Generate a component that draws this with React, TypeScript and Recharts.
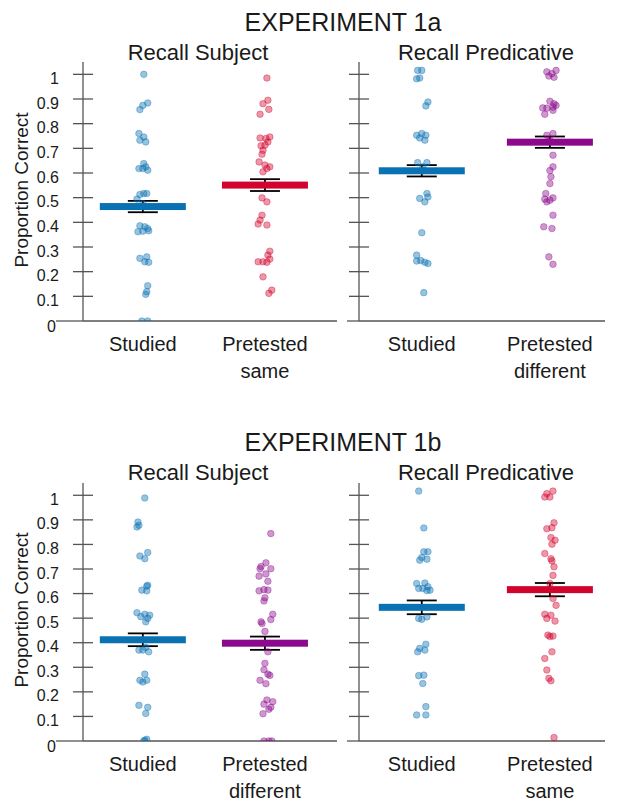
import { ScatterChart, Scatter, XAxis, YAxis, ErrorBar } from "recharts";

// each point: [proportion correct, horizontal jitter in px-ish units]
const E1A_SUBJ_STUDIED = [
  [1.0, 1], [0.884, 5], [0.874, 0], [0.857, -3], [0.76, -4], [0.746, 1], [0.733, -3], [0.726, 3],
  [0.638, 1], [0.625, 3], [0.618, -4], [0.618, 0], [0.611, 5], [0.517, 1], [0.513, -3], [0.517, 4],
  [0.494, -6], [0.476, 0], [0.386, -3], [0.382, 2], [0.375, 5], [0.362, -5], [0.364, 0], [0.366, 6],
  [0.254, -3], [0.26, 4], [0.24, 2], [0.238, 6], [0.143, 5], [0.119, 4], [0.108, 3], [0, -1], [0, 5],
];
const E1A_SUBJ_PRE_SAME = [
  [0.985, 2], [0.895, 3], [0.881, -2], [0.858, 4], [0.838, -5], [0.742, -5], [0.746, 5], [0.74, 1],
  [0.726, 3], [0.713, 0], [0.71, -4], [0.692, -2], [0.676, -3], [0.645, -6], [0.632, 0], [0.625, 5],
  [0.618, 2], [0.605, -2], [0.499, -3], [0.483, 2], [0.429, -3], [0.409, -5], [0.393, -7], [0.389, 2],
  [0.283, 5], [0.267, 3], [0.24, -7], [0.24, -2], [0.251, 5], [0.238, 2], [0.179, -2], [0.125, 7], [0.112, 4],
];
const E1A_PRED_STUDIED = [
  [1.016, -4], [1.016, 0], [0.982, -5], [0.985, -2], [0.888, 6], [0.872, 4], [0.753, -5], [0.76, 0],
  [0.753, 4], [0.742, -2], [0.733, 3], [0.642, -4], [0.642, 5], [0.625, 1], [0.61, 2], [0.517, 5],
  [0.497, -2], [0.483, 3], [0.503, 6], [0.358, 0], [0.267, -5], [0.243, -5], [0.238, 3], [0.233, 6],
  [0.245, -1], [0.115, 2],
];
const E1A_PRED_PRE_DIFF = [
  [1.01, -3], [1.003, 2], [1.016, 6], [0.993, -1], [0.988, 4], [0.891, 0], [0.881, 4], [0.864, -7],
  [0.867, 3], [0.874, 6], [0.863, -3], [0.854, 3], [0.838, -5], [0.753, -3], [0.76, 3], [0.733, 0],
  [0.672, 3], [0.625, 3], [0.61, 0], [0.585, 1], [0.557, 0], [0.517, -4], [0.499, 3], [0.494, -5],
  [0.49, 0], [0.483, -3], [0.429, 3], [0.382, -6], [0.375, 2], [0.26, -1], [0.23, 3],
];
const E1B_SUBJ_STUDIED = [
  [0.989, 2], [0.891, -5], [0.871, -6], [0.878, -4], [0.767, 5], [0.753, -3], [0.742, 2], [0.634, 5],
  [0.63, 4], [0.614, -1], [0.611, 4], [0.522, -6], [0.516, 2], [0.512, 7], [0.506, -2], [0.499, 5],
  [0.485, 3], [0.37, -4], [0.37, 0], [0.363, 6], [0.381, 3], [0.272, 2], [0.247, -3], [0.24, 0],
  [0.247, 4], [0.145, -4], [0.137, 5], [0.112, 3], [0.003, 2], [0.007, 4], [0, 1],
];
const E1B_SUBJ_PRE_DIFF = [
  [0.844, 6], [0.725, 1], [0.71, -4], [0.701, 6], [0.701, -5], [0.68, 1], [0.671, -6], [0.65, 3],
  [0.611, -6], [0.616, -1], [0.614, 3], [0.583, 0], [0.57, -1], [0.516, 8], [0.485, -4], [0.494, 6],
  [0.478, -3], [0.446, 0], [0.363, 3], [0.316, 0], [0.29, -1], [0.272, 3], [0.267, 5], [0.247, -5],
  [0.233, 1], [0.167, 2], [0.16, 8], [0.15, -1], [0.137, 6], [0.129, 4], [0.111, -2], [0, -1], [0, 4], [0, 7],
];
const E1B_PRED_STUDIED = [
  [1.017, -3], [0.867, 2], [0.77, 2], [0.77, 6], [0.747, 0], [0.736, -2], [0.74, 5], [0.641, -5],
  [0.643, 3], [0.628, 6], [0.621, -3], [0.621, 1], [0.612, 5], [0.614, 8], [0.499, -3], [0.505, 5],
  [0.495, 0], [0.394, 4], [0.377, -2], [0.363, -4], [0.37, 3], [0.266, -3], [0.268, 2], [0.234, 1],
  [0.14, 4], [0.106, -5], [0.106, 4],
];
const E1B_PRED_PRE_SAME = [
  [1.017, 3], [1.007, -3], [0.993, -5], [0.993, 0], [0.888, 4], [0.864, -3], [0.868, 2], [0.828, 1],
  [0.817, 5], [0.801, 2], [0.763, -5], [0.742, 1], [0.733, 2], [0.709, 4], [0.674, 3], [0.641, 0],
  [0.58, 3], [0.552, 6], [0.516, -5], [0.512, 1], [0.499, -3], [0.488, 5], [0.431, -2], [0.427, 3],
  [0.425, 0], [0.363, 2], [0.336, -5], [0.289, -3], [0.255, -1], [0.245, 1], [0.014, 4],
];

// [mean, standard error] for Studied, Pretested
const E1A_SUBJ_MEANS = [[0.464, 0.023], [0.551, 0.024]];
const E1A_PRED_MEANS = [[0.609, 0.023], [0.725, 0.023]];
const E1B_SUBJ_MEANS = [[0.412, 0.026], [0.398, 0.027]];
const E1B_PRED_MEANS = [[0.544, 0.028], [0.616, 0.027]];

const Y_TICKS = [0, 0.1, 0.2, 0.3, 0.4, 0.5, 0.6, 0.7, 0.8, 0.9, 1];
const Y_TICK_LABELS = ["0", "0.1", "0.2", "0.3", "0.4", "0.5", "0.6", "0.7", "0.8", "0.9", "1"];
const LABELS_SAME = [["Studied"], ["Pretested", "same"]];
const LABELS_DIFF = [["Studied"], ["Pretested", "different"]];

const BLUE = "#0a71b3";
const RED = "#d1042e";
const PURPLE = "#8b0a8c";
const AXIS = "#555";
const TEXT = "#1a1a1a";
const FONT = "'Liberation Sans', Arial, Helvetica, sans-serif";
const JIT = 1 / 125;

const toPoints = (pts: number[][], cat: number) =>
  pts.map(([v, j]) => ({ x: cat + j * JIT, y: v }));

function Dot(color: string) {
  return (p: any) => (
    <circle
      cx={p.cx}
      cy={p.cy}
      r={3.3}
      fill={color}
      fillOpacity={0.42}
      stroke={color}
      strokeOpacity={0.35}
      strokeWidth={1}
    />
  );
}

function MeanBar(color: string) {
  return (p: any) => (
    <rect x={p.cx - 43} y={p.cy - 3.5} width={86} height={7} fill={color} />
  );
}

function Panel({ left, top, width, height, axisWidth, marginTop, marginRight, xAxisHeight,
  xDomain, labels, showLabels, zeroExt, studied, pretested, preColor, means }: any) {
  const meanData = means.map(([m, se]: number[], i: number) => ({ x: i + 1, y: m, err: se }));
  const yTick = (p: any) => {
    const i = Y_TICKS.indexOf(p.payload.value);
    const isZero = p.payload.value === 0;
    return (
      <g>
        <line
          x1={p.x - (isZero ? zeroExt : 10)}
          x2={p.x + (isZero ? 0 : 10)}
          y1={p.y}
          y2={p.y}
          stroke={AXIS}
          strokeWidth={1.3}
        />
        {showLabels && (
          <text
            x={p.x - (isZero ? 27 : 24)}
            y={p.y + (isZero ? 11 : 9.5)}
            textAnchor="end"
            fontSize={16}
            fontFamily={FONT}
            fill={TEXT}
          >
            {Y_TICK_LABELS[i]}
          </text>
        )}
      </g>
    );
  };
  const xTick = (p: any) => {
    const lines = labels[Math.round(p.payload.value) - 1] || [];
    return (
      <text x={p.x} y={p.y} textAnchor="middle" fontSize={20} fontFamily={FONT} fill={TEXT}>
        {lines.map((l: string, k: number) => (
          <tspan key={k} x={p.x} dy={k === 0 ? 29.5 : 27.5}>
            {l}
          </tspan>
        ))}
      </text>
    );
  };
  return (
    <div style={{ position: "absolute", left, top }}>
      <ScatterChart
        width={width}
        height={height}
        margin={{ top: marginTop, right: marginRight, bottom: 0, left: 0 }}
      >
        <XAxis
          type="number"
          dataKey="x"
          domain={xDomain}
          ticks={[1, 2]}
          interval={0}
          allowDataOverflow
          height={xAxisHeight}
          tickLine={false}
          tickSize={0}
          tickMargin={0}
          axisLine={{ stroke: AXIS, strokeWidth: 1.3 }}
          tick={xTick}
        />
        <YAxis
          type="number"
          dataKey="y"
          domain={[0, 1.05]}
          ticks={Y_TICKS}
          interval={0}
          allowDataOverflow
          width={axisWidth}
          tickLine={false}
          tickSize={0}
          tickMargin={0}
          axisLine={{ stroke: AXIS, strokeWidth: 1.3 }}
          tick={yTick}
        />
        <Scatter data={toPoints(studied, 1)} shape={Dot(BLUE)} isAnimationActive={false} />
        <Scatter data={toPoints(pretested, 2)} shape={Dot(preColor)} isAnimationActive={false} />
        <Scatter data={meanData.slice(0, 1)} shape={MeanBar(BLUE)} isAnimationActive={false} />
        <Scatter data={meanData.slice(1, 2)} shape={MeanBar(preColor)} isAnimationActive={false} />
        <Scatter data={meanData} shape={() => <g />} isAnimationActive={false}>
          <ErrorBar dataKey="err" direction="y" width={15} stroke="#000" strokeWidth={1.8} isAnimationActive={false} />
        </Scatter>
      </ScatterChart>
    </div>
  );
}

export default function App() {
  const topRow = { top: 0, height: 400, marginTop: 62, xAxisHeight: 79 };
  const botRow = { top: 420, height: 383, marginTop: 63, xAxisHeight: 62 };
  const leftCol = { left: 0, width: 345, axisWidth: 83, marginRight: 8, xDomain: [0.51, 2.59], showLabels: true, zeroExt: 27 };
  const rightCol = { left: 340, width: 281, axisWidth: 19, marginRight: 16, xDomain: [0.51, 2.43], showLabels: false, zeroExt: 12 };
  return (
    <div style={{ position: "absolute", left: 0, top: 0, width: 621, height: 803, background: "#fff" }}>
      <svg width={621} height={803} style={{ position: "absolute", left: 0, top: 0 }}>
        {[0, 420].map((dy, i) => (
          <g key={i} fontFamily={FONT} fill={TEXT}>
            <text x={343} y={31 + dy} fontSize={25} textAnchor="middle">
              {i === 0 ? "EXPERIMENT 1a" : "EXPERIMENT 1b"}
            </text>
            <text x={198} y={60 + dy} fontSize={22} textAnchor="middle">Recall Subject</text>
            <text x={486} y={60 + dy} fontSize={22} textAnchor="middle">Recall Predicative</text>
            <text
              x={21}
              y={190 + dy}
              fontSize={19}
              textAnchor="middle"
              dominantBaseline="central"
              transform={`rotate(-90 21 ${190 + dy})`}
            >
              Proportion Correct
            </text>
          </g>
        ))}
      </svg>
      <Panel {...topRow} {...leftCol} labels={LABELS_SAME} studied={E1A_SUBJ_STUDIED}
        pretested={E1A_SUBJ_PRE_SAME} preColor={RED} means={E1A_SUBJ_MEANS} />
      <Panel {...topRow} {...rightCol} labels={LABELS_DIFF} studied={E1A_PRED_STUDIED}
        pretested={E1A_PRED_PRE_DIFF} preColor={PURPLE} means={E1A_PRED_MEANS} />
      <Panel {...botRow} {...leftCol} labels={LABELS_DIFF} studied={E1B_SUBJ_STUDIED}
        pretested={E1B_SUBJ_PRE_DIFF} preColor={PURPLE} means={E1B_SUBJ_MEANS} />
      <Panel {...botRow} {...rightCol} labels={LABELS_SAME} studied={E1B_PRED_STUDIED}
        pretested={E1B_PRED_PRE_SAME} preColor={RED} means={E1B_PRED_MEANS} />
    </div>
  );
}
